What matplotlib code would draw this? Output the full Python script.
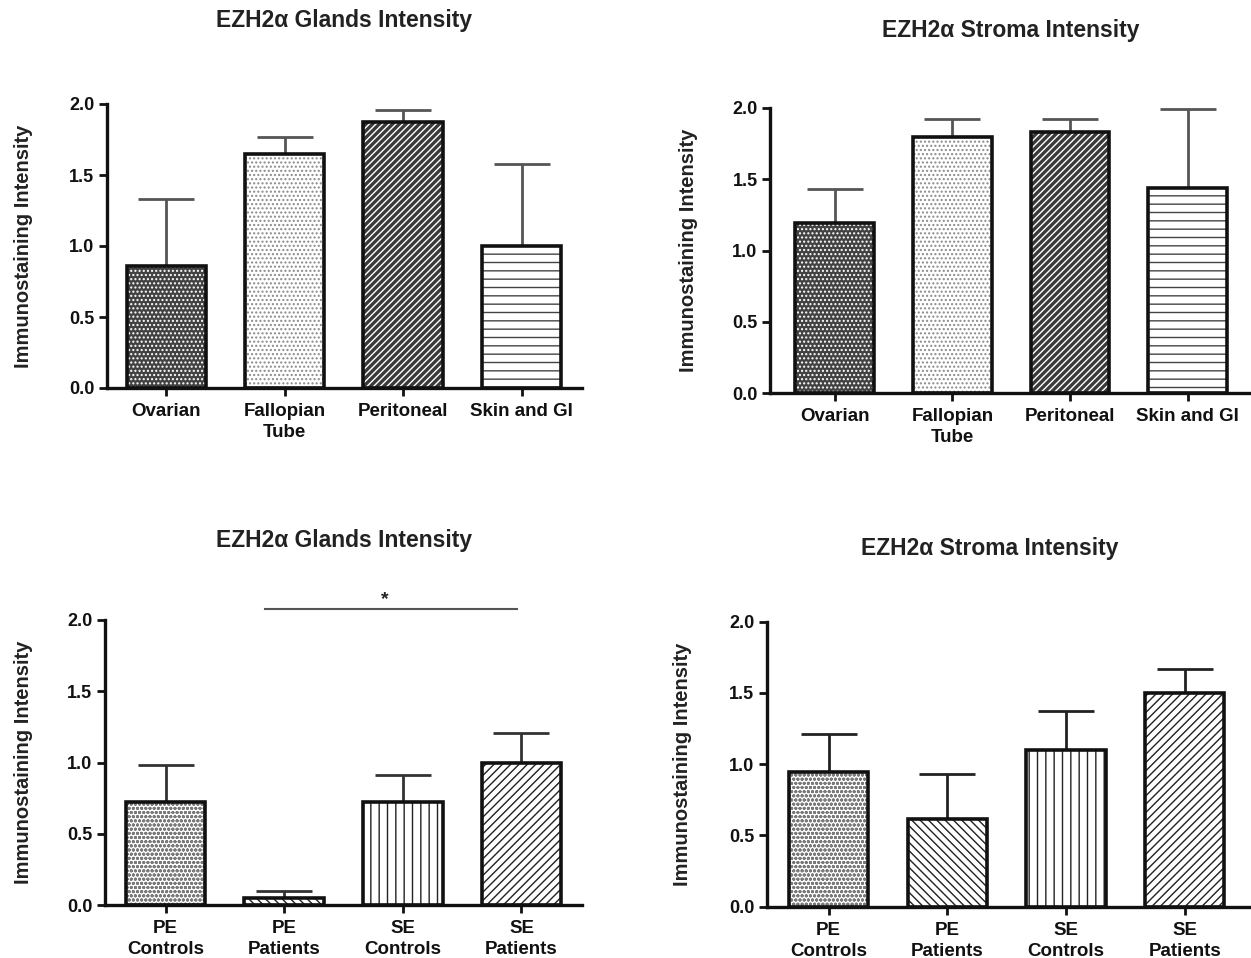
import numpy as np
import matplotlib
matplotlib.use("Agg")
import matplotlib.pyplot as plt

plt.rcParams['font.family'] = ['Liberation Sans', 'DejaVu Sans']
plt.rcParams['font.weight'] = 'bold'
plt.rcParams['hatch.linewidth'] = 1.0

# data
site_labels = ['Ovarian', 'Fallopian\nTube', 'Peritoneal', 'Skin and GI']
site_glands = [0.86, 1.65, 1.87, 1.00]
site_glands_err = [0.47, 0.12, 0.09, 0.58]
site_stroma = [1.19, 1.80, 1.83, 1.44]
site_stroma_err = [0.24, 0.12, 0.09, 0.55]

grp_labels = ['PE\nControls', 'PE\nPatients', 'SE\nControls', 'SE\nPatients']
grp_glands = [0.725, 0.05, 0.725, 1.00]
grp_glands_err = [0.255, 0.045, 0.19, 0.21]
grp_stroma = [0.945, 0.615, 1.10, 1.50]
grp_stroma_err = [0.265, 0.315, 0.27, 0.165]

title_glands = 'EZH2\u03b1 Glands Intensity'
title_stroma = 'EZH2\u03b1 Stroma Intensity'
ylab = 'Immunostaining Intensity'

# (face, hatch, hatch colour) per bar
site_styles = [('#424242', '....', 'white'),
               ('white', '....', '#8a8a8a'),
               ('#3a3a3a', '/////', 'white'),
               ('white', '--', '#444444')]
grp_styles = [('white', 'oooo', '#7a7a7a'),
              ('white', '\\\\\\\\', '#222222'),
              ('white', '||', '#222222'),
              ('white', '////', '#222222')]

fig = plt.figure(figsize=(12.51, 9.58), dpi=100)


def panel(rect, xlim, labels, vals, errs, styles, title, title_xy, ylab_x, ecol):
    ax = fig.add_axes(rect)
    x = np.arange(len(vals))
    w = 0.67
    ax.errorbar(x, vals, yerr=[np.zeros(len(vals)), errs], fmt='none',
                ecolor=ecol, elinewidth=2, capsize=20, capthick=2,
                zorder=1, clip_on=False)
    for i in range(len(vals)):
        face, hatch, hcol = styles[i]
        ax.bar(x[i], vals[i], w, color=face, hatch=hatch, edgecolor=hcol,
               linewidth=0, zorder=2)
    ax.bar(x, vals, w, fill=False, edgecolor='#111111', linewidth=2.6, zorder=3)
    ax.set_xlim(*xlim)
    ax.set_ylim(0, 2.0)
    ax.set_yticks([0, 0.5, 1.0, 1.5, 2.0])
    ax.set_yticklabels(['0.0', '0.5', '1.0', '1.5', '2.0'], fontsize=13)
    ax.set_xticks(x)
    ax.set_xticklabels(labels, fontsize=13.5, linespacing=1.3)
    for s in ['top', 'right']:
        ax.spines[s].set_visible(False)
    for s in ['left', 'bottom']:
        ax.spines[s].set_linewidth(2.4)
        ax.spines[s].set_color('#111111')
    ax.tick_params(axis='both', direction='out', length=6, width=2,
                   colors='#111111', pad=3)
    ax.tick_params(axis='x', pad=5)
    fig.text(title_xy[0], title_xy[1], title, ha='center', va='center',
             fontsize=16.5, fontweight='bold', color='#222222')
    fig.text(ylab_x, rect[1] + rect[3] / 2, ylab, rotation=90, ha='center',
             va='center', fontsize=14.5, fontweight='bold', color='#222222')
    return ax


W, H = 1251.0, 958.0
ax1 = panel([107 / W, 1 - 388 / H, 475 / W, 284 / H], (-0.5, 3.51),
            site_labels, site_glands, site_glands_err, site_styles,
            title_glands, (344 / W, 1 - 20 / H), 24 / W, '#555555')
ax2 = panel([770 / W, 1 - 393 / H, 480 / W, 285 / H], (-0.55, 3.53),
            site_labels, site_stroma, site_stroma_err, site_styles,
            title_stroma, (1011 / W, 1 - 30 / H), 688 / W, '#555555')
ax3 = panel([105 / W, 1 - 905 / H, 477 / W, 285 / H], (-0.51, 3.51),
            grp_labels, grp_glands, grp_glands_err, grp_styles,
            title_glands, (344 / W, 1 - 540 / H), 24 / W, '#333333')
ax4 = panel([767 / W, 1 - 906.7 / H, 483 / W, 285 / H], (-0.52, 3.55),
            grp_labels, grp_stroma, grp_stroma_err, grp_styles,
            title_stroma, (990 / W, 1 - 548 / H), 682 / W, '#222222')

# significance bar between PE Patients and SE Patients
ax3.plot([0.84, 2.96], [2.08, 2.08], color='#555555', lw=1.5, clip_on=False)
ax3.text(1.85, 2.085, '*', ha='center', va='bottom', fontsize=14,
         color='#222222')

fig.savefig('out.png', dpi=100)
